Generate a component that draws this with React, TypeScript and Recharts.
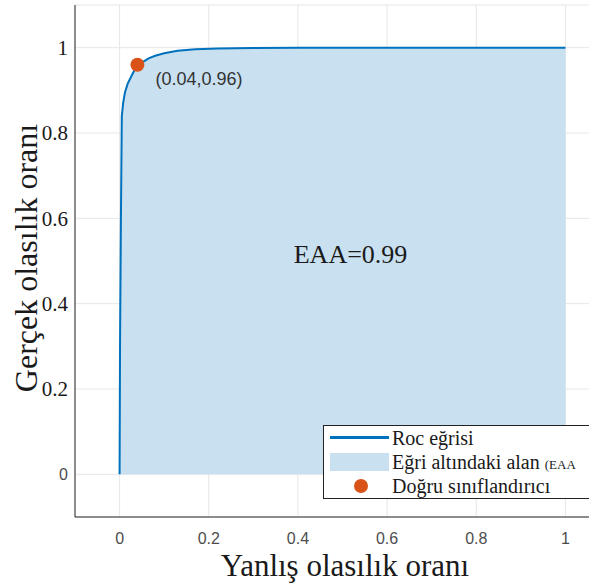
import { Area, CartesianGrid, ComposedChart, Line, ReferenceDot, Scatter, XAxis, YAxis } from 'recharts';

// ROC curve
const falsePositiveRate = [0, 0.001, 0.003, 0.005, 0.008, 0.012, 0.018, 0.025, 0.036, 0.05, 0.065, 0.08, 0.1, 0.13, 0.17, 0.22, 0.3, 0.4, 0.6, 0.8, 1];
const truePositiveRate = [0, 0.3, 0.6, 0.84, 0.87, 0.895, 0.915, 0.93, 0.953, 0.965, 0.975, 0.981, 0.987, 0.993, 0.996, 0.998, 0.999, 1, 1, 1, 1];
const axisTicks = [0, 0.2, 0.4, 0.6, 0.8, 1];
const classifierPoint = [{ fpr: 0.04, tpr: 0.96 }];
const classifierText = '(0.04,0.96)';
const aucText = 'EAA=0.99';
const aucLabelAt = { fpr: 0.518, tpr: 0.516 };
const xTitle = 'Yanlış olasılık oranı';
const yTitle = 'Gerçek olasılık oranı';
const legendLine = 'Roc eğrisi';
const legendArea = 'Eğri altındaki alan';
const legendAreaSmall = '(EAA';
const legendDot = 'Doğru sınıflandırıcı';

const SERIF = '"Liberation Serif", "DejaVu Serif", serif';
const SANS = '"Liberation Sans", Arial, sans-serif';
const BLUE = '#0072BD';
const FILL = '#c9e0f0';
const ORANGE = '#D95319';

const rocData = falsePositiveRate.map((fpr, i) => ({ fpr, tpr: truePositiveRate[i] }));

const YTick = (props: any) => {
  const { x, y, payload } = props;
  const zero = payload.value === 0;
  return (
    <text x={x} y={y} dy="0.35em" textAnchor="end"
      fontFamily={zero ? SANS : SERIF} fontSize={zero ? 16 : 21} fill={zero ? '#4d4d4d' : '#1a1a1a'}>
      {payload.value}
    </text>
  );
};

const XTick = (props: any) => {
  const { x, y, payload } = props;
  return (
    <text x={x} y={y} dy="0.71em" textAnchor="middle" fontFamily={SANS} fontSize={16} fill="#4d4d4d">
      {payload.value}
    </text>
  );
};

export default function App() {
  return (
    <div style={{ position: 'fixed', left: 0, top: 0, width: 589, height: 588, overflow: 'hidden', background: '#fff' }}>
      <ComposedChart width={620} height={588} data={rocData} margin={{ top: 5, right: 10, bottom: 11, left: 0 }}>
        <CartesianGrid stroke="#e6e6e6" strokeWidth={1} />
        <XAxis dataKey="fpr" type="number" domain={[-0.1, 1.1]} ticks={axisTicks} height={60}
          tickSize={0} tickMargin={16} tick={<XTick />} stroke="#262626" allowDataOverflow
          label={() => (
            <text x={345} y={576} textAnchor="middle" fontFamily={SERIF} fontSize={31} fill="#1a1a1a">{xTitle}</text>
          )} />
        <YAxis type="number" domain={[-0.1, 1.1]} ticks={axisTicks} width={75}
          tickSize={0} tickMargin={7} tick={<YTick />} stroke="#262626" allowDataOverflow
          label={() => (
            <text x={0} y={0} transform="translate(37 258) rotate(-90)" textAnchor="middle"
              fontFamily={SERIF} fontSize={32} fill="#1a1a1a">{yTitle}</text>
          )} />
        <Area dataKey="tpr" type="linear" fill={FILL} fillOpacity={1} stroke="none" baseValue={0} isAnimationActive={false} />
        <Line dataKey="tpr" type="linear" stroke={BLUE} strokeWidth={2} dot={false} isAnimationActive={false} />
        <Scatter data={classifierPoint} dataKey="tpr" isAnimationActive={false}
          shape={(p: any) => (
            <g>
              <circle cx={p.cx} cy={p.cy} r={7} fill={ORANGE} />
              <text x={p.cx + 18} y={p.cy + 14} dy="0.35em" fontFamily={SANS} fontSize={18} fill="#333">{classifierText}</text>
            </g>
          )} />
        <ReferenceDot x={aucLabelAt.fpr} y={aucLabelAt.tpr} r={0}
          shape={(p: any) => (
            <text x={p.cx} y={p.cy} dy="0.35em" textAnchor="middle" fontFamily={SERIF} fontSize={26} fill="#1a1a1a">{aucText}</text>
          )} />
      </ComposedChart>
      <div style={{ position: 'absolute', left: 323, top: 425, width: 300, height: 72, border: '1px solid #222', background: '#fff', fontFamily: SERIF, fontSize: 20, color: '#1a1a1a' }}>
        <div style={{ position: 'absolute', left: 6, top: 10, width: 59, height: 3, background: BLUE }} />
        <div style={{ position: 'absolute', left: 68, top: 0, lineHeight: '24px', whiteSpace: 'nowrap' }}>{legendLine}</div>
        <div style={{ position: 'absolute', left: 6, top: 27, width: 59, height: 18, background: FILL }} />
        <div style={{ position: 'absolute', left: 68, top: 24, lineHeight: '24px', whiteSpace: 'nowrap' }}>
          {legendArea} <span style={{ fontSize: 13 }}>{legendAreaSmall}</span>
        </div>
        <div style={{ position: 'absolute', left: 30, top: 53, width: 14, height: 14, borderRadius: 7, background: ORANGE }} />
        <div style={{ position: 'absolute', left: 68, top: 48, lineHeight: '24px', whiteSpace: 'nowrap' }}>{legendDot}</div>
      </div>
    </div>
  );
}
